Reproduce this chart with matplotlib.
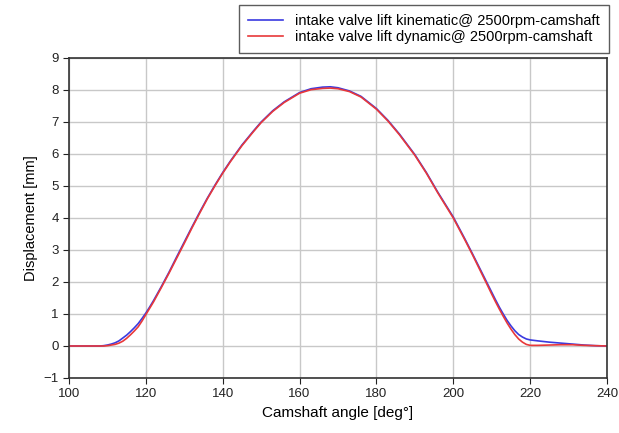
import numpy as np
import matplotlib
matplotlib.use("Agg")
import matplotlib.pyplot as plt

plt.rcParams['font.family'] = ['Liberation Sans', 'DejaVu Sans']

# camshaft angle [deg]
angle = [100, 105, 108, 109, 110, 111, 112, 113, 114, 115,
         116, 117, 118, 119, 120, 121, 122, 124, 126, 128,
         130, 132, 134, 136, 138, 140, 142, 145, 148, 150,
         153, 156, 160, 163, 166, 168, 170, 173, 176, 180,
         183, 186, 190, 193, 196, 200, 203, 205, 207, 209,
         210, 211, 212, 213, 214, 215, 216, 217, 218, 219,
         220, 222, 225, 228, 231, 234, 237, 240]

# valve lift [mm]
lift_kinematic = [0, 0, 0, 0.01, 0.03, 0.06, 0.1, 0.16, 0.25, 0.34,
                  0.45, 0.57, 0.7, 0.86, 1.03, 1.22, 1.42, 1.85, 2.3, 2.78,
                  3.25, 3.72, 4.18, 4.62, 5.03, 5.42, 5.78, 6.28, 6.72, 7.0,
                  7.35, 7.63, 7.92, 8.04, 8.09, 8.1, 8.07, 7.97, 7.8, 7.42,
                  7.05, 6.62, 5.98, 5.42, 4.8, 4.03, 3.35, 2.88, 2.4, 1.92,
                  1.68, 1.44, 1.21, 1.0, 0.8, 0.63, 0.48, 0.36, 0.28, 0.22,
                  0.19, 0.16, 0.12, 0.09, 0.06, 0.03, 0.01, 0]
lift_dynamic = [0, 0, 0, 0, 0.01, 0.03, 0.05, 0.09, 0.15, 0.24,
                0.35, 0.47, 0.6, 0.78, 0.98, 1.18, 1.38, 1.82, 2.27, 2.74,
                3.21, 3.69, 4.15, 4.6, 5.01, 5.4, 5.76, 6.26, 6.7, 6.98,
                7.33, 7.61, 7.9, 8.01, 8.05, 8.06, 8.04, 7.95, 7.78, 7.4,
                7.03, 6.6, 5.96, 5.4, 4.78, 4.0, 3.32, 2.85, 2.36, 1.87,
                1.62, 1.38, 1.15, 0.93, 0.72, 0.53, 0.36, 0.22, 0.12, 0.05,
                0.02, 0.02, 0.03, 0.04, 0.04, 0.02, 0.01, 0]

fig = plt.figure(figsize=(6.19, 4.33), dpi=100)
ax = fig.add_axes([69 / 619, 1 - 378 / 433, (607 - 69) / 619, (378 - 58) / 433])

ax.plot(angle, lift_kinematic, color='#3a3ae0', lw=1.2,
        label='intake valve lift kinematic@ 2500rpm-camshaft')
ax.plot(angle, lift_dynamic, color='#e8383a', lw=1.2,
        label='intake valve lift dynamic@ 2500rpm-camshaft')

ax.set_xlim(100, 240)
ax.set_ylim(-1, 9)
ax.set_xticks(np.arange(100, 241, 20))
ax.set_yticks(np.arange(-1, 10, 1))
ax.grid(True, color='#c8c8c8', lw=1)
ax.set_axisbelow(True)
ax.tick_params(direction='out', length=4, labelsize=9.5, colors='#222222')
for s in ax.spines.values():
    s.set_color('#333333')
    s.set_linewidth(1.2)

ax.set_xlabel('Camshaft angle [deg°]', fontsize=11)
ax.set_ylabel('Displacement [mm]', fontsize=10.5)

leg = fig.legend(loc='upper right', bbox_to_anchor=(609 / 619, 1 - 5 / 433),
                 borderaxespad=0, fontsize=10.5, frameon=True, fancybox=False,
                 handlelength=2.4, borderpad=0.65, labelspacing=0.1,
                 handletextpad=0.8)
leg.get_frame().set_edgecolor('#333333')
leg.get_frame().set_linewidth(1.0)

fig.savefig('out.png', dpi=100)
